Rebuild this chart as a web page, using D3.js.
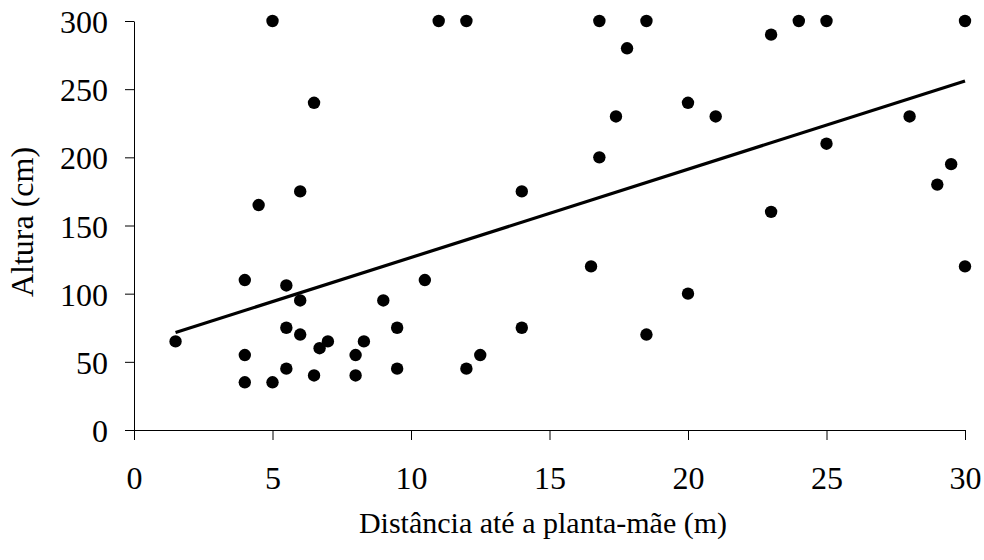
<!DOCTYPE html>
<html>
<head>
<meta charset="utf-8">
<script src="https://cdn.jsdelivr.net/npm/d3@7"></script>
<style>
  body { margin: 0; background: #fff; }
  text { font-family: "Liberation Serif", "Times New Roman", serif; }
</style>
</head>
<body>
<div id="chart"></div>
<script>
// distância (m) e altura (cm) de cada planta
var distancia = [5, 6.5, 6, 4.5, 1.5, 4, 5.5, 6, 9, 5.5, 6, 9.5, 7, 6.7, 8.3, 4, 8, 5.5, 9.5, 6.5, 8, 4, 5,
                 11, 12, 16.8, 18.5, 17.8, 17.4, 16.8, 14, 10.5, 12, 12.5, 14, 16.5, 18.5,
                 24, 25, 30, 23, 20, 21, 28, 25, 29.5, 29, 23, 30, 20];
var altura = [300, 240, 175, 165, 65, 110, 106, 95, 95, 75, 70, 75, 65, 60, 65, 55, 55, 45, 45, 40, 40, 35, 35,
              300, 300, 300, 300, 280, 230, 200, 175, 110, 45, 55, 75, 120, 70,
              300, 300, 300, 290, 240, 230, 230, 210, 195, 180, 160, 120, 100];

// linha de tendência
var tendenciaX = [1.5, 30];
var tendenciaY = [71.5, 256];

var xTicks = [0, 5, 10, 15, 20, 25, 30];
var yTicks = [0, 50, 100, 150, 200, 250, 300];

var W = 984, H = 560;
var margin = { top: 21, right: 19, bottom: 130, left: 134 };
var w = W - margin.left - margin.right;
var h = H - margin.top - margin.bottom;

var svg = d3.select("#chart").append("svg").attr("width", W).attr("height", H);
var g = svg.append("g").attr("transform", "translate(" + margin.left + "," + margin.top + ")");

var x = d3.scaleLinear().domain([0, 30]).range([0, w]);
var y = d3.scaleLinear().domain([0, 300]).range([h, 0]);

var xAxis = g.append("g").attr("transform", "translate(0," + h + ")")
    .call(d3.axisBottom(x).tickValues(xTicks).tickSize(10).tickPadding(26).tickSizeOuter(0));
var yAxis = g.append("g")
    .call(d3.axisLeft(y).tickValues(yTicks).tickSize(9).tickPadding(17).tickSizeOuter(0));

[xAxis, yAxis].forEach(function (a) {
    a.selectAll("path, line").attr("stroke", "#000");
    a.selectAll("text").attr("fill", "#000").style("font-size", "32px")
        .style("font-family", "'Liberation Serif', 'Times New Roman', serif");
});
xAxis.selectAll("text").attr("dy", "0.71em");
yAxis.selectAll("text").attr("dy", "0.36em");

// pontos
var pts = distancia.map(function (d, i) { return [d, altura[i]]; });
g.selectAll("circle").data(pts).enter().append("circle")
    .attr("cx", function (d) { return x(d[0]); })
    .attr("cy", function (d) { return y(d[1]); })
    .attr("r", 6.2)
    .attr("fill", "#000");

// tendência
g.append("line")
    .attr("x1", x(tendenciaX[0])).attr("y1", y(tendenciaY[0]))
    .attr("x2", x(tendenciaX[1])).attr("y2", y(tendenciaY[1]))
    .attr("stroke", "#000").attr("stroke-width", 3.2);

svg.append("text")
    .attr("x", 543).attr("y", 533)
    .attr("text-anchor", "middle")
    .style("font-size", "30px")
    .text("Distância até a planta-mãe (m)");

svg.append("text")
    .attr("transform", "translate(33," + 222 + ")rotate(-90)")
    .attr("text-anchor", "middle")
    .style("font-size", "32px")
    .text("Altura (cm)");
</script>
</body>
</html>
